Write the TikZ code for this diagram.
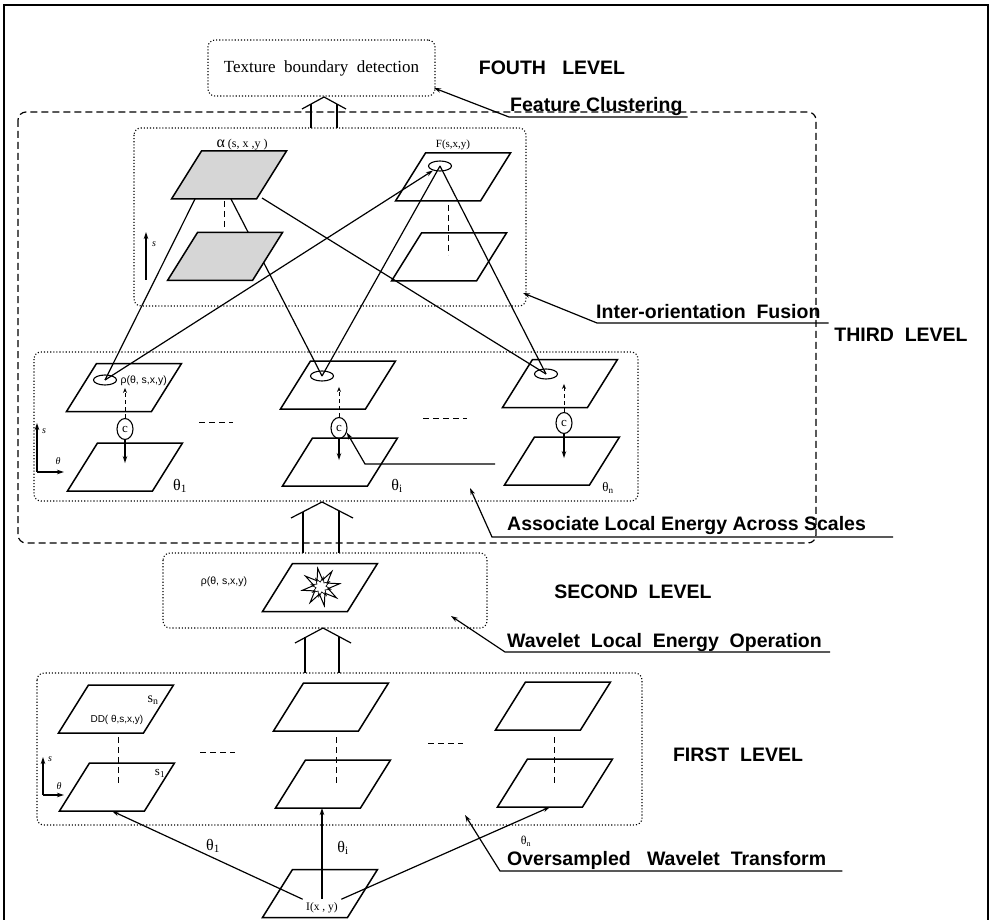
\documentclass[tikz,border=0pt]{standalone}
\usepackage{fontspec}
\setmainfont{Liberation Serif}
\setsansfont{Liberation Sans}
\usetikzlibrary{shapes.geometric,arrows.meta}

\begin{document}
\begin{tikzpicture}[
    x=1pt, y=-1pt,
    >={Stealth[length=7pt,width=4.5pt]},
    plane/.pic={
        \draw[line width=1.5pt, pic actions] (-57.5,24) -- (27.5,24) -- (57.5,-24) -- (-27.5,-24) -- cycle;
        \coordinate (-c) at (0,0);
        \coordinate (-s) at (-5,24);
    },
    shaded/.style={fill=black!16},
    spot/.style={ellipse, draw, line width=1.1pt, minimum width=23pt, minimum height=10pt, inner sep=0pt},
    cbox/.style={ellipse, draw, line width=1.1pt, minimum width=16pt, minimum height=21pt, inner sep=0pt,
        font=\fontsize{13}{13}\selectfont},
    dotbox/.style={draw, dotted, line width=1.1pt, rounded corners=7pt},
    level/.style={font=\sffamily\bfseries\fontsize{19.5}{22}\selectfont},
    tag/.style={level, anchor=base west, inner sep=0pt},
    small/.style={font=\sffamily\fontsize{10.5}{12}\selectfont},
    axis/.style={font=\itshape\fontsize{10}{12}\selectfont, inner sep=1pt},
    link/.style={line width=1.2pt},
    dashline/.style={line width=1pt, dash pattern=on 6pt off 4pt},
]
    \useasboundingbox (0,0) rectangle (991,920);
    \draw[line width=2pt] (4,922) -- (4,5) -- (988,5) -- (988,922);

    % boxes of the levels
    \draw[line width=1.2pt, dash pattern=on 7pt off 4pt, rounded corners=8pt] (18,112) rectangle (816,543);
    \draw[dotbox] (134,128) rectangle (526,306);
    \draw[dotbox] (34,352) rectangle (638,501);
    \draw[dotbox] (163,553) rectangle (487,628);
    \draw[dotbox] (37,673) rectangle (642,825);
    \node[dotbox, minimum width=227pt, minimum height=56pt, font=\fontsize{17}{18}\selectfont] (goal) at (321.5,68) {Texture\ \ boundary\ \ detection};

    % fourth level arrow
    \draw[link] (302,109) -- (324,97) -- (346,109);
    \draw[link] (311,128) -- (311,104) (337,128) -- (337,104);

    % third level planes
    \pic (fTop) at (453,177) {plane};
    \pic (fBot) at (449,257) {plane};
    \pic (t1Top) at (124,387.5) {plane};
    \pic (t1Bot) at (125,467) {plane};
    \pic (tiTop) at (338,385) {plane};
    \pic (tiBot) at (340,462) {plane};
    \pic (tnTop) at (560,383.5) {plane};
    \pic (tnBot) at (562,461) {plane};

    \node[spot] (eF) at (440,166) {};
    \node[spot] (e1) at (105,380) {};
    \node[spot] (ei) at (322,376) {};
    \node[spot] (en) at (546,374) {};

    \coordinate (aL) at (195,199);
    \coordinate (aM) at (231,199);
    \coordinate (aR) at (262,198);
    \draw[link] (aL) -- (e1.center);
    \draw[link] (aM) -- (ei.center);
    \draw[link] (aR) -- (en.center);
    \draw[link, ->] (e1.center) -- (eF);
    \draw[link] (ei.center) -- (eF.center);
    \draw[link] (en.center) -- (eF.center);

    \pic[shaded] (aTop) at (229,175) {plane};
    \pic[shaded] (aBot) at (225,256.5) {plane};
    \draw[dashline] ([yshift=-2pt]aTop-s) -- ++(0,29);
    \draw[dashline] ([yshift=-4pt]fTop-s) -- ++(0,50);
    \node[anchor=west, font=\fontsize{12}{12}\selectfont] (alab) at (213,145) {{\fontsize{16}{16}\selectfont α}\ (s, x ,y )};
    \node[font=\fontsize{11}{11}\selectfont] (flab) at (453,145) {F(s,x,y)};
    \draw[link, ->] (146,280) -- (146,232);
    \node[axis] (as1) at (154,244) {s};

    % local energy across scales
    \node[cbox] (c1) at (125,429) {c};
    \node[cbox] (ci) at (339,428) {c};
    \node[cbox] (cn) at (564,423) {c};
    \draw[dashline, dash pattern=on 4pt off 3pt, -{Stealth[open,length=5pt,width=4pt]}] (c1.north) -- ++(0,-30);
    \draw[dashline, dash pattern=on 4pt off 3pt, -{Stealth[open,length=5pt,width=4pt]}] (ci.north) -- ++(0,-30);
    \draw[dashline, dash pattern=on 4pt off 3pt, -{Stealth[open,length=5pt,width=4pt]}] (cn.north) -- ++(0,-28);
    \draw[link, ->] (c1.south) -- ++(0,23);
    \draw[link, ->] (ci.south) -- ++(0,21);
    \draw[link, ->] (cn.south) -- ++(0,24);
    \coordinate (cfeed) at (495,464);
    \draw[link, ->] (cfeed) -- (365,464) -- (ci.-30);
    \draw[dashline] (199,422) -- (233,422);
    \draw[dashline] (423,418) -- (467,418);
    \node[small, anchor=west] (rho1) at (117,381) {ρ(θ, s,x,y)};
    \node[font=\fontsize{16}{16}\selectfont] (th1) at (180,486) {θ\textsubscript{1}};
    \node[font=\fontsize{16}{16}\selectfont] (thi) at (397,486) {θ\textsubscript{i}};
    \node[font=\fontsize{13}{13}\selectfont] (thn) at (608,488) {θ\textsubscript{n}};
    \draw[link, ->] (37,472) -- (37,423);
    \draw[link, ->] (37,472) -- (64,472);
    \node[axis] (as2) at (44,431) {s};
    \node[axis] (at2) at (58,461) {θ};

    % second level
    \draw[link] (291,518) -- (322,502) -- (353,518);
    \draw[link] (303,553) -- (303,512) (339,553) -- (339,511);
    \pic (sp) at (320,587.5) {plane};
    \node[star, star points=8, star point ratio=2.6, draw, fill=white, line width=1pt, minimum size=38pt, inner sep=0pt, rotate=10] (burst) at (321,587) {};
    \node[star, star points=8, star point ratio=2, draw, line width=0.7pt, minimum size=20pt, inner sep=0pt, rotate=32] (core) at (321,587) {};
    \node[small] (rho2) at (224,582) {ρ(θ, s,x,y)};

    % first level
    \draw[link] (295,643) -- (323,628) -- (351,643);
    \draw[link] (305,673) -- (305,637) (339,673) -- (339,637);
    \pic (L1Top) at (116,709) {plane};
    \pic (L1Bot) at (117,787) {plane};
    \pic (LiTop) at (331,707) {plane};
    \pic (LiBot) at (333,784) {plane};
    \pic (LnTop) at (553,706) {plane};
    \pic (LnBot) at (555,783) {plane};
    \draw[dashline] (118,737) -- (118,785);
    \draw[dashline] (336,737) -- (336,783);
    \draw[dashline] (554,737) -- (554,785);
    \draw[dashline] (200,752) -- (235,752);
    \draw[dashline] (428,743) -- (463,743);
    \node[font=\fontsize{14}{14}\selectfont] (sn) at (153,700) {s\textsubscript{n}};
    \node[font=\fontsize{13}{13}\selectfont] (s1) at (160,773) {s\textsubscript{1}};
    \node[anchor=west, font=\sffamily\fontsize{10}{12}\selectfont] (ddlab) at (87,720) {DD( θ,s,x,y)};
    \draw[link, ->] (43,795) -- (43,757);
    \draw[link, ->] (43,795) -- (64,795);
    \node[axis] (as3) at (50,759) {s};
    \node[axis] (at3) at (59,786) {θ};

    % input image
    \pic (img) at (320,893.5) {plane};
    \node[font=\fontsize{11.5}{11.5}\selectfont] (ixy) at (322,908) {I(x , y)};
    \draw[link, ->] (ixy.north west) -- (L1Bot-s);
    \draw[link, ->] (ixy.north) -- (ixy.north |- LiBot-s);
    \draw[link, ->] (ixy.north east) -- (LnBot-s);
    \node[font=\fontsize{16}{16}\selectfont] (b1) at (213,846) {θ\textsubscript{1}};
    \node[font=\fontsize{16}{16}\selectfont] (bi) at (343,848) {θ\textsubscript{i}};
    \node[font=\fontsize{12}{12}\selectfont] (bn) at (526,841) {θ\textsubscript{n}};

    % level names
    \node[level] (lv4) at (552,68) {FOUTH\ \ \ LEVEL};
    \node[level] (lv3) at (901,335) {THIRD\ \ LEVEL};
    \node[level] (lv2) at (633,592) {SECOND\ \ LEVEL};
    \node[level] (lv1) at (738,755) {FIRST\ \ LEVEL};

    % operations
    \coordinate (fcTip) at (434,88);
    \coordinate (fuTip) at (523,293);
    \coordinate (asTip) at (470,488);
    \coordinate (wlTip) at (451,616);
    \coordinate (ovTip) at (465,815);
    \node[tag] (fc) at (510,112) {Feature\ Clustering};
    \node[tag] (fu) at (596,318) {Inter-orientation\ \ Fusion};
    \node[tag] (as) at (507,530) {Associate Local Energy Across Scales};
    \node[tag] (wl) at (507,647) {Wavelet\ \ Local\ \ Energy\ \ Operation};
    \node[tag] (ov) at (507,865) {Oversampled\ \ \ Wavelet\ \ Transform};
    \draw[link, ->] ([xshift=5pt,yshift=-5pt]fc.base east) -- ([xshift=-1pt,yshift=-5pt]fc.base west) -- (fcTip);
    \draw[link, ->] ([xshift=8pt,yshift=-5pt]fu.base east) -- ([xshift=1pt,yshift=-5pt]fu.base west) -- (fuTip);
    \draw[link, ->] ([xshift=27pt,yshift=-7pt]as.base east) -- ([xshift=-15pt,yshift=-7pt]as.base west) -- (asTip);
    \draw[link, ->] ([xshift=8pt,yshift=-5pt]wl.base east) -- ([xshift=-2pt,yshift=-5pt]wl.base west) -- (wlTip);
    \draw[link, ->] ([xshift=16pt,yshift=-6pt]ov.base east) -- ([xshift=-7pt,yshift=-6pt]ov.base west) -- (ovTip);
\end{tikzpicture}
\end{document}
